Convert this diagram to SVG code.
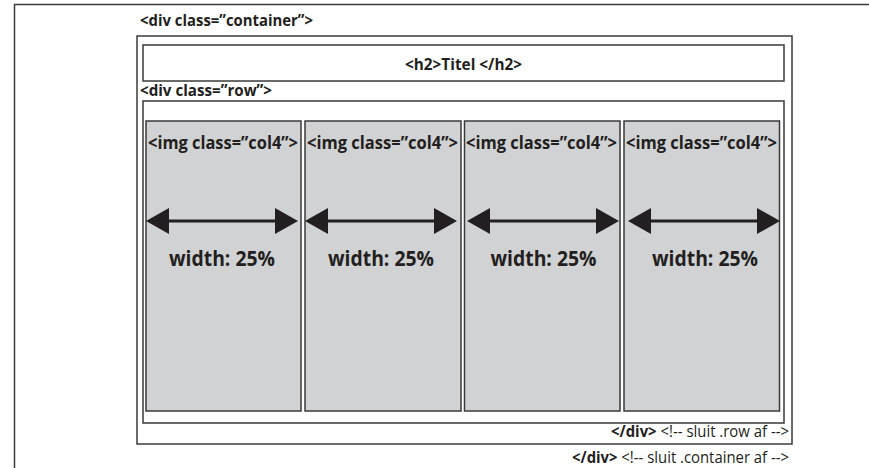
<svg xmlns="http://www.w3.org/2000/svg" width="869" height="468" viewBox="0 0 869 468">
<defs>
<style>
.box{fill:#fff;stroke:#3a3a3a;stroke-width:1.5}
.col{fill:#d1d2d4;stroke:#3a3a3a;stroke-width:1.5}
.b{font-family:"Open Sans","Liberation Sans",sans-serif;font-weight:bold;fill:#231f20}
.r{font-family:"Open Sans","Liberation Sans",sans-serif;font-weight:normal;fill:#231f20}
.lbl{font-size:16px}
.img{font-size:17px}
.w{font-size:21px}
.arr{stroke:#231f20;stroke-width:3;fill:none}
.head{fill:#231f20}
</style>
<g id="arrow">
<line class="arr" x1="20" y1="0" x2="132" y2="0"/>
<polygon class="head" points="0,0 23,-13 23,13"/>
<polygon class="head" points="152,0 129,-13 129,13"/>
</g>
</defs>
<g id="frame">
<path d="M14.5,468 V4.5 H869" fill="none" stroke="#3a3a3a" stroke-width="1.5"/>
</g>
<g id="container">
<rect class="box" x="137" y="36" width="655" height="408"/>
<text class="b lbl" x="140" y="26" textLength="173" lengthAdjust="spacingAndGlyphs">&lt;div class=”container”&gt;</text>
</g>
<g id="h2">
<rect class="box" x="143" y="45" width="641" height="36"/>
<text class="b lbl" x="463.5" y="70" text-anchor="middle" textLength="117" lengthAdjust="spacingAndGlyphs">&lt;h2&gt;Titel &lt;/h2&gt;</text>
</g>
<g id="row">
<text class="b lbl" x="140" y="96" textLength="132" lengthAdjust="spacingAndGlyphs">&lt;div class=”row”&gt;</text>
<rect class="box" x="143" y="101" width="641" height="322"/>
</g>
<g id="col1">
<rect class="col" x="146" y="121" width="155" height="290"/>
<text class="b img" x="148" y="149" textLength="150" lengthAdjust="spacingAndGlyphs">&lt;img class=”col4”&gt;</text>
<text class="b w" x="222" y="266" text-anchor="middle" textLength="106" lengthAdjust="spacingAndGlyphs">width: 25%</text>
</g>
<g id="col2">
<rect class="col" x="305" y="121" width="156" height="290"/>
<text class="b img" x="307" y="149" textLength="151" lengthAdjust="spacingAndGlyphs">&lt;img class=”col4”&gt;</text>
<text class="b w" x="381" y="266" text-anchor="middle" textLength="106" lengthAdjust="spacingAndGlyphs">width: 25%</text>
</g>
<g id="col3">
<rect class="col" x="464.5" y="121" width="155.5" height="290"/>
<text class="b img" x="466" y="149" textLength="151" lengthAdjust="spacingAndGlyphs">&lt;img class=”col4”&gt;</text>
<text class="b w" x="543.5" y="266" text-anchor="middle" textLength="106" lengthAdjust="spacingAndGlyphs">width: 25%</text>
</g>
<g id="col4">
<rect class="col" x="624" y="121" width="155.5" height="290"/>
<text class="b img" x="626" y="149" textLength="151" lengthAdjust="spacingAndGlyphs">&lt;img class=”col4”&gt;</text>
<text class="b w" x="705" y="266" text-anchor="middle" textLength="106" lengthAdjust="spacingAndGlyphs">width: 25%</text>
</g>
<g id="connectors">
<use href="#arrow" x="146" y="221"/>
<use href="#arrow" x="305" y="221"/>
<use href="#arrow" x="467" y="221"/>
<use href="#arrow" x="628" y="221"/>
</g>
<g id="closing">
<text class="lbl" x="789" y="437" text-anchor="end" textLength="178" lengthAdjust="spacingAndGlyphs"><tspan class="b">&lt;/div&gt;</tspan><tspan class="r"> &lt;!-- sluit .row af --&gt;</tspan></text>
<text class="lbl" x="789" y="463" text-anchor="end" textLength="217" lengthAdjust="spacingAndGlyphs"><tspan class="b">&lt;/div&gt;</tspan><tspan class="r"> &lt;!-- sluit .container af --&gt;</tspan></text>
</g>
</svg>
